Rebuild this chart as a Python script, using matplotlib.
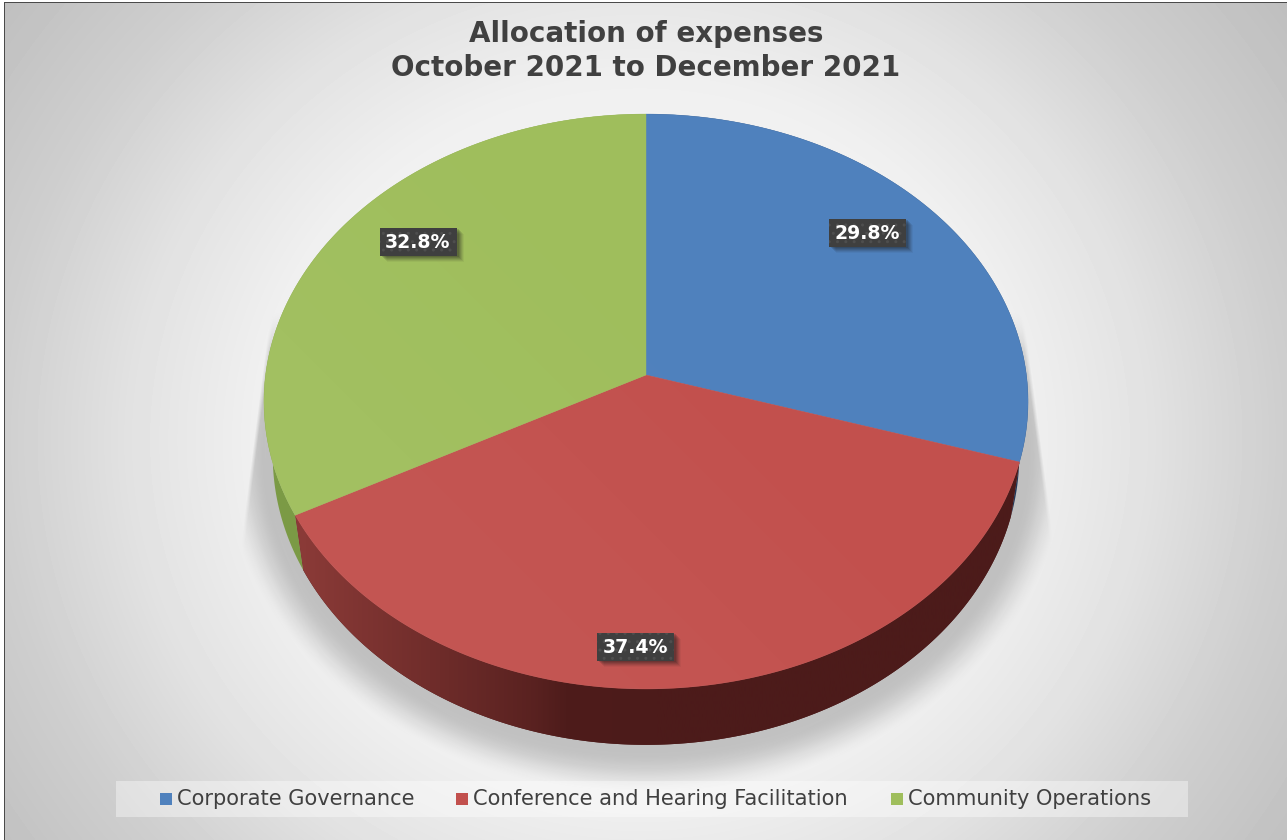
import numpy as np
import matplotlib
matplotlib.use('Agg')
import matplotlib.pyplot as plt
from matplotlib.patches import Polygon, Rectangle
from matplotlib.colors import LinearSegmentedColormap

categories = ['Corporate Governance', 'Conference and Hearing Facilitation', 'Community Operations']
shares = [29.8, 37.4, 32.8]
title_lines = ['Allocation of expenses', 'October 2021 to December 2021']

top_colors = ['#4f81bd', '#c2504d', '#9fbe5c']
side_colors = ['#22395a', '#4e1c1b', '#7b9a45']
label_pos = [(867.5, 233), (635, 647), (418, 242)]

W, H = 1287, 840
CX, CY = 646, 375      # apex of the pie on screen
A, B, K = 380.4, 285.0, 0.0922   # tilted circle: half width, half height, perspective
SIDE_SX, SIDE_SY, SIDE_DY = 0.977, 1.006, 54   # lower rim relative to the top rim


def rim(theta, sx=1.0, sy=1.0, dy=0.0):
    # theta runs clockwise from twelve o'clock
    u, v = np.sin(theta), np.cos(theta)
    d = 1 + K * v
    return CX + sx * A * u / d, CY + dy - sy * B * v / d


def wedge_angles():
    edges = np.cumsum([0] + shares) / sum(shares) * 2 * np.pi
    return list(zip(edges[:-1], edges[1:]))


fig = plt.figure(figsize=(W / 100, H / 100), dpi=100)
ax = fig.add_axes([0, 0, 1, 1])
ax.axis('off')

yy, xx = np.mgrid[0:H, 0:W] + 0.5

# radial backdrop
t = np.sqrt(((xx - 640) / 640) ** 2 + ((yy - 440) / 600) ** 2)
bg = np.interp(t, [0, 0.3, 0.6, 0.8, 1.0, 1.25], [0.98, 0.97, 0.94, 0.885, 0.81, 0.745])
ax.imshow(bg, cmap='gray', vmin=0, vmax=1, extent=(0, W, H, 0), zorder=0, aspect='auto')

# ground shadow: decays away from the lower rim, cut off by a cone higher up
ex, ey, erx, ery = 646.0, 456.0, 372.0, 289.0
F = np.sqrt(((xx - ex) / erx) ** 2 + ((yy - ey) / ery) ** 2)
grad = np.sqrt(((xx - ex) / erx ** 2) ** 2 + ((yy - ey) / ery ** 2) ** 2) / F
dist = (F - 1) / grad
s = np.clip((dist - 8) / 44, 0, 1)
fade = 1 - s * s * (3 - 2 * s)
left = 270 + (yy - 315) * (240 - 270) / (550 - 315)
right = 1028 + (yy - 345) * (1055 - 1028) / (550 - 345)
cone = np.clip((xx - left) / 4, 0, 1) * np.clip((right - xx) / 4, 0, 1)
cone = np.where(yy > 555, 1, cone) * np.clip((yy - 310) / 40, 0, 1)
shadow = np.zeros((H, W, 4))
shadow[..., 3] = 0.2 * fade * cone
ax.imshow(shadow, extent=(0, W, H, 0), zorder=1, aspect='auto')

# pie side wall
red_shade = LinearSegmentedColormap.from_list('red_side', ['#8c3b38', '#6e2c2a', '#4e1c1b', '#4c1b1a'])
for (a0, a1), col, top in zip(wedge_angles(), side_colors, top_colors):
    th = np.linspace(a0, a1, 300)
    x0, y0 = rim(th)
    x1, y1 = rim(th, SIDE_SX, SIDE_SY, SIDE_DY)
    pts = np.column_stack([np.r_[x0, x1[::-1]], np.r_[y0, y1[::-1]]])
    poly = Polygon(pts, closed=True, facecolor=col, edgecolor='none', zorder=2)
    ax.add_patch(poly)
    if top == '#c2504d':
        # the long wall goes dark towards the middle
        g = np.interp(np.linspace(0, 1, 512), [0, 0.33, 0.5, 1], [0, 0.55, 1, 1])[None, :]
        im = ax.imshow(g, cmap=red_shade, vmin=0, vmax=1, zorder=3, aspect='auto',
                       extent=(min(x0.min(), x1.min()) - 1, x0.max() + 2, H, 0))
        im.set_clip_path(poly)

# pie top face
for (a0, a1), col in zip(wedge_angles(), top_colors):
    th = np.linspace(a0, a1, 400)
    x0, y0 = rim(th)
    pts = np.column_stack([np.r_[CX, x0], np.r_[CY, y0]])
    ax.add_patch(Polygon(pts, closed=True, facecolor=col, edgecolor=col, lw=0.3, zorder=4))

# faint sheen on the lower left of the top face
th = np.linspace(0, 2 * np.pi, 800)
face = Polygon(np.column_stack(rim(th)), closed=True, facecolor='none', edgecolor='none', zorder=4)
ax.add_patch(face)
sheen = np.zeros((H, W, 4))
sheen[..., :3] = 1.0
sheen[..., 3] = 0.035 * np.clip(((700 - xx) + (yy - 300)) / 500, 0, 1)
im = ax.imshow(sheen, extent=(0, W, H, 0), zorder=4.5, aspect='auto')
im.set_clip_path(face)

# percentage tags
for (lx, ly), val in zip(label_pos, shares):
    bw, bh = 77, 28
    for off, al in [(7, 0.05), (6, 0.08), (5, 0.1), (4, 0.12), (3, 0.14), (2, 0.16)]:
        ax.add_patch(Rectangle((lx - bw / 2 + off, ly - bh / 2 + off - 1), bw, bh, facecolor='#1a1a1a',
                               alpha=al, edgecolor='none', zorder=5))
    ax.add_patch(Rectangle((lx - bw / 2, ly - bh / 2), bw, bh, facecolor='#3f3f3f',
                           edgecolor='#4e4e4e', hatch='..', lw=0, zorder=6))
    ax.text(lx, ly + 0.5, f'{val:.1f}%', color='white', fontsize=13.6, fontweight='bold',
            family='DejaVu Sans', ha='center', va='center', zorder=7)

# title
ax.text(646, 34.5, title_lines[0], color='#404040', fontsize=20.0, fontweight='bold',
        family='DejaVu Sans', ha='center', va='center', zorder=7)
ax.text(646, 68.5, title_lines[1], color='#404040', fontsize=20.0, fontweight='bold',
        family='DejaVu Sans', ha='center', va='center', zorder=7)

# legend strip
ax.add_patch(Rectangle((116, 781), 1072, 36, facecolor='white', alpha=0.39, edgecolor='none', zorder=5))
legend_x = [160, 456, 891]
for lx, name, col in zip(legend_x, categories, top_colors):
    ax.add_patch(Rectangle((lx, 793), 12, 12, facecolor=col, edgecolor='none', zorder=6))
    ax.text(lx + 17, 799, name, color='#404040', fontsize=15.15, family='DejaVu Sans',
            ha='left', va='center', zorder=7)

# outer frame with a thin white margin
ax.add_patch(Rectangle((0, 0), 4, H, facecolor='white', edgecolor='none', zorder=8))
ax.add_patch(Rectangle((0, 0), W, 2, facecolor='white', edgecolor='none', zorder=8))
ax.add_patch(Rectangle((4, 2), 1.4, H - 2, facecolor='#4a4a4a', edgecolor='none', zorder=9))
ax.add_patch(Rectangle((4, 2), W - 4, 1.4, facecolor='#4a4a4a', edgecolor='none', zorder=9))

ax.set_xlim(0, W)
ax.set_ylim(H, 0)
fig.savefig('out.png', dpi=100)
